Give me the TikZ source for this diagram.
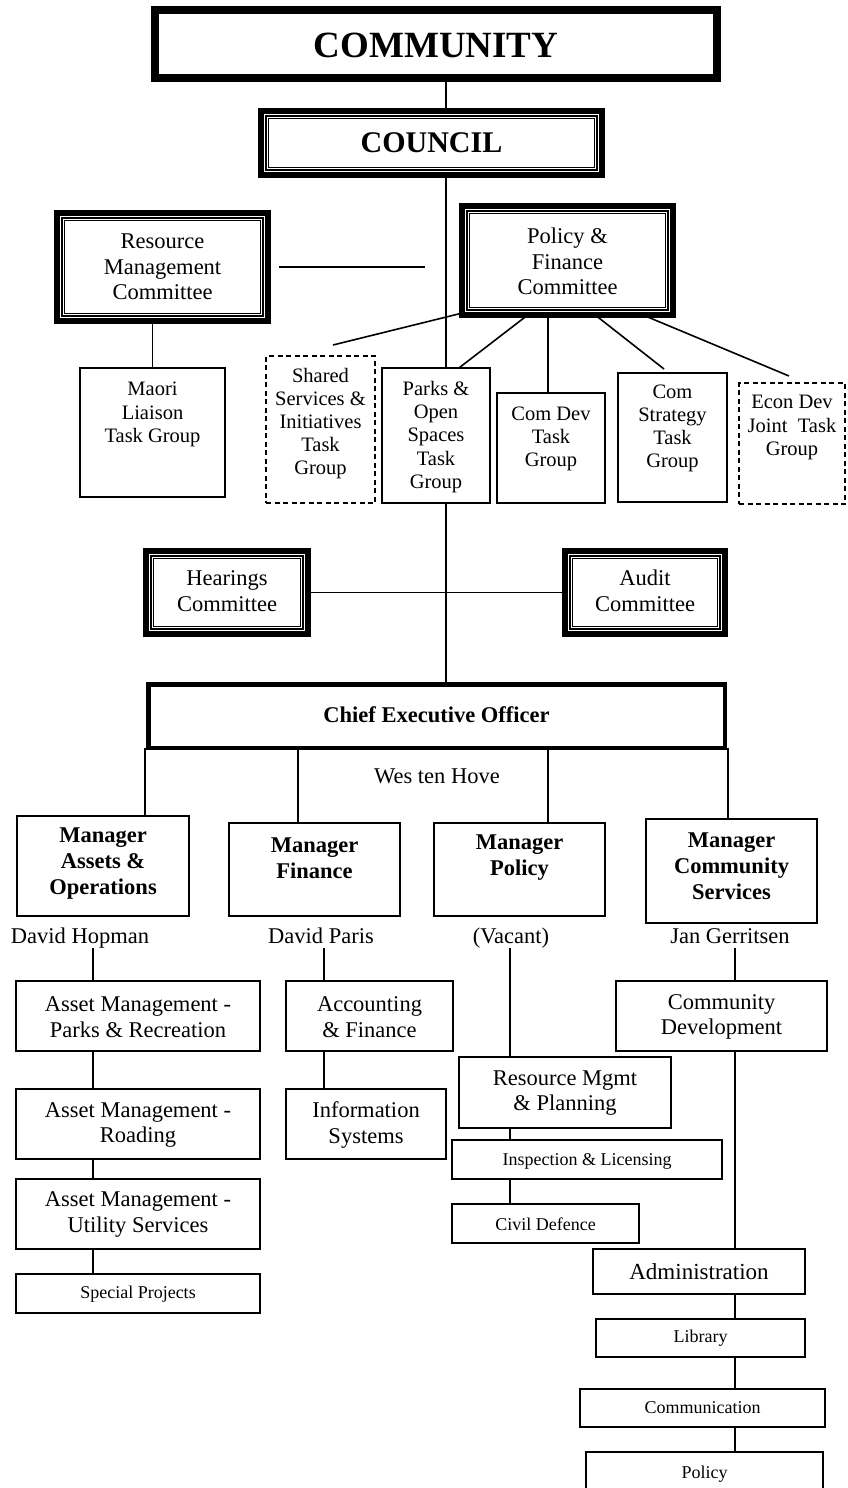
\documentclass[tikz,border=0pt]{standalone}
\usepackage{fontspec}
\setmainfont{Liberation Serif}
\usetikzlibrary{backgrounds,calc}
\newcommand\fCom{\fontsize{37}{40}\selectfont\bfseries}
\newcommand\fCou{\fontsize{30}{33}\selectfont\bfseries}
\newcommand\fN{\fontsize{22.5}{25.5}\selectfont}
\newcommand\fT{\fontsize{20.5}{23.2}\selectfont}
\newcommand\fM{\fontsize{22.5}{26}\selectfont\bfseries}
\newcommand\fS{\fontsize{18}{21}\selectfont}
\newcommand\fAd{\fontsize{23}{26}\selectfont}
% name, box style, x1, y1, x2, y2, text dy, font, text
\newcommand\BX[9]{%
  \pgfmathsetmacro\bxw{#5-#3}\pgfmathsetmacro\bxh{#6-#4}%
  \pgfmathsetmacro\bxcx{(#3+#5)/2}\pgfmathsetmacro\bxcy{(#4+#6)/2}%
  \node[#2, minimum width=\bxw pt, minimum height=\bxh pt] (#1) at (\bxcx,\bxcy) {};
  \node[txt, font=#8] (#1-t) at (\bxcx,{\bxcy+(#7)}) {#9};}
\newcommand\TRIW[1]{%
  \draw[white,line width=1.3pt] ([shift={(0.8pt,-0.8pt)}]#1.north west) rectangle ([shift={(-0.8pt,0.8pt)}]#1.south east);
  \draw[white,line width=0.9pt] ([shift={(3.9pt,-3.9pt)}]#1.north west) rectangle ([shift={(-3.9pt,3.9pt)}]#1.south east);}
\tikzset{
  bx/.style={draw, fill=white, line width=1.8pt, inner sep=0pt, outer sep=0pt},
  dbx/.style={bx, line width=1.6pt, dash pattern=on 5pt off 3.5pt},
  mbx/.style={bx, line width=2.3pt},
  tri/.style={draw, fill=white, line width=11pt, inner sep=0pt, outer sep=0pt},
  heavy/.style={draw, fill=white, line width=8pt, inner sep=0pt, outer sep=0pt},
  ceob/.style={draw, fill=white, line width=4.5pt, inner sep=0pt, outer sep=0pt},
  txt/.style={align=center, inner sep=0pt},
  person/.style={inner sep=0pt, font=\fN, text height=15pt, text depth=5pt},
  conn/.style={line width=1.6pt},
}
\begin{document}
\begin{tikzpicture}[x=1pt,y=-1pt]
\useasboundingbox (0,0) rectangle (847,1488);
\clip (0,0) rectangle (847,1488);

\BX{community}{heavy}{155}{10}{717}{78}{1}{\fCom}{COMMUNITY}
\BX{council}{tri}{263.5}{113.5}{599.5}{172.5}{0}{\fCou}{COUNCIL}
\BX{rmc}{tri}{59.5}{215.5}{265.5}{318.5}{0}{\fN}{Resource\\Management\\Committee}
\BX{pf}{tri}{464.5}{208.5}{670.5}{312.5}{1}{\fN}{Policy \&\\Finance\\Committee}
\BX{maori}{bx}{80}{368}{225}{497}{-18}{\fT}{Maori\\Liaison\\Task Group}
\BX{shared}{dbx}{266}{356}{375}{503}{-6}{\fT}{Shared\\Services \&\\Initiatives\\Task\\Group}
\BX{parks}{bx}{382}{368}{490}{503}{1.5}{\fT}{Parks \&\\Open\\Spaces\\Task\\Group}
\BX{comdev}{bx}{497}{393}{605}{503}{-9}{\fT}{Com Dev\\Task\\Group}
\BX{comstrat}{bx}{618}{373}{727}{502}{-9}{\fT}{Com\\Strategy\\Task\\Group}
\BX{econ}{dbx}{739}{383}{845}{504}{-16}{\fT}{Econ Dev\\Joint\ \ Task\\Group}
\BX{hear}{tri}{148.5}{553.5}{305.5}{631.5}{-1.5}{\fN}{Hearings\\Committee}
\BX{audit}{tri}{567.5}{553.5}{722.5}{631.5}{-1.5}{\fN}{Audit\\Committee}
\BX{ceo}{ceob}{148.25}{684.25}{724.75}{747.75}{-1}{\fM}{Chief Executive Officer}
\node[person] (ceoname) at (437,778) {Wes ten Hove};
\BX{ma}{mbx}{17}{816}{189}{916}{-2}{\fM}{Manager\\Assets \&\\Operations}
\BX{mf}{mbx}{229}{823}{400}{916}{-11.5}{\fM}{Manager\\Finance}
\BX{mp}{mbx}{434}{823}{605}{916}{-11.5}{\fM}{Manager\\Policy}
\BX{mc}{mbx}{646}{819}{817}{923}{-4.5}{\fM}{Manager\\Community\\Services}
\node[person] (hopman) at (80,938) {David Hopman};
\node[person] (paris) at (321,938) {David Paris};
\node[person] (vacant) at (511,938) {(Vacant)};
\node[person] (gerritsen) at (730,938) {Jan Gerritsen};
\BX{a1}{bx}{16}{981}{260}{1051}{1}{\fN}{Asset Management -\\Parks \& Recreation}
\BX{acc}{bx}{286}{981}{453}{1051}{1}{\fN}{Accounting\\\& Finance}
\BX{cd}{bx}{616}{981}{827}{1051}{1}{\fN}{Community\\Development}
\BX{rmp}{bx}{459}{1057}{671}{1128}{0.5}{\fN}{Resource Mgmt\\\& Planning}
\BX{a2}{bx}{16}{1089}{260}{1159}{1}{\fN}{Asset Management -\\Roading}
\BX{info}{bx}{286}{1089}{446}{1159}{1}{\fN}{Information\\Systems}
\BX{insp}{bx}{452}{1140}{722}{1179}{1.5}{\fS}{Inspection \& Licensing}
\BX{civil}{bx}{452}{1204}{639}{1243}{0.5}{\fS}{Civil Defence}
\BX{a3}{bx}{16}{1179}{260}{1249}{0.5}{\fN}{Asset Management -\\Utility Services}
\BX{sp}{bx}{16}{1274}{260}{1313}{0.5}{\fS}{Special Projects}
\BX{admin}{bx}{593}{1249}{805}{1294}{0.5}{\fAd}{Administration}
\BX{lib}{bx}{596}{1319}{805}{1357}{0}{\fS}{Library}
\BX{comm}{bx}{580}{1389}{825}{1427}{0}{\fS}{Communication}
\BX{pol}{bx}{586}{1452}{823}{1510}{-7}{\fS}{Policy}

\TRIW{council}\TRIW{rmc}\TRIW{pf}\TRIW{hear}\TRIW{audit}

\coordinate (rmgap) at (425,267);
\coordinate (shend) at (333,345);
\coordinate (pkend) at (455,371);
\coordinate (csend) at (664,369);
\coordinate (ecend) at (789,376);

\begin{pgfonlayer}{background}
\fill[white] (0,0) rectangle (847,1488);
\draw[conn] (community.south -| 446,0) -- (council.north -| 446,0);
\draw[conn] (council.south -| 446,0) -- (parks.north -| 446,0);
\draw[conn] ([xshift=13.5pt]rmc.east) -- (rmgap);
\draw[conn] (maori.north) -- (maori.north |- rmc.south);
\draw[conn] (pf.south west) -- (shend);
\draw[conn] (pf.south -| 531,0) -- (pkend);
\draw[conn] (pf.south -| 548,0) -- (comdev.north -| 548,0);
\draw[conn] (pf.south -| 592,0) -- (csend);
\draw[conn] (pf.south -| 637,0) -- (ecend);
\draw[conn] (parks.south -| 446,0) -- (ceo.north -| 446,0);
\draw[conn] (hear.east) -- (audit.west);
\draw[conn] (ceo.south -| 145,0) -- (ma.north -| 145,0);
\draw[conn] (ceo.south -| 298,0) -- (mf.north -| 298,0);
\draw[conn] (ceo.south -| 548,0) -- (mp.north -| 548,0);
\draw[conn] (ceo.south -| 728,0) -- (mc.north -| 728,0);
\draw[conn] (hopman.south -| 93,0) -- (a1.north -| 93,0);
\draw[conn] (paris.south -| 324,0) -- (acc.north -| 324,0);
\draw[conn] (vacant.south -| 510,0) -- (rmp.north -| 510,0);
\draw[conn] (gerritsen.south -| 735,0) -- (cd.north -| 735,0);
\draw[conn] (a1.south -| 93,0) -- (a2.north -| 93,0);
\draw[conn] (a2.south -| 93,0) -- (a3.north -| 93,0);
\draw[conn] (a3.south -| 93,0) -- (sp.north -| 93,0);
\draw[conn] (acc.south -| 324,0) -- (info.north -| 324,0);
\draw[conn] (rmp.south -| 510,0) -- (insp.north -| 510,0);
\draw[conn] (insp.south -| 510,0) -- (civil.north -| 510,0);
\draw[conn] (cd.south -| 735,0) -- (admin.north -| 735,0);
\draw[conn] (admin.south -| 735,0) -- (lib.north -| 735,0);
\draw[conn] (lib.south -| 735,0) -- (comm.north -| 735,0);
\draw[conn] (comm.south -| 735,0) -- (pol.north -| 735,0);
\end{pgfonlayer}
\end{tikzpicture}
\end{document}
